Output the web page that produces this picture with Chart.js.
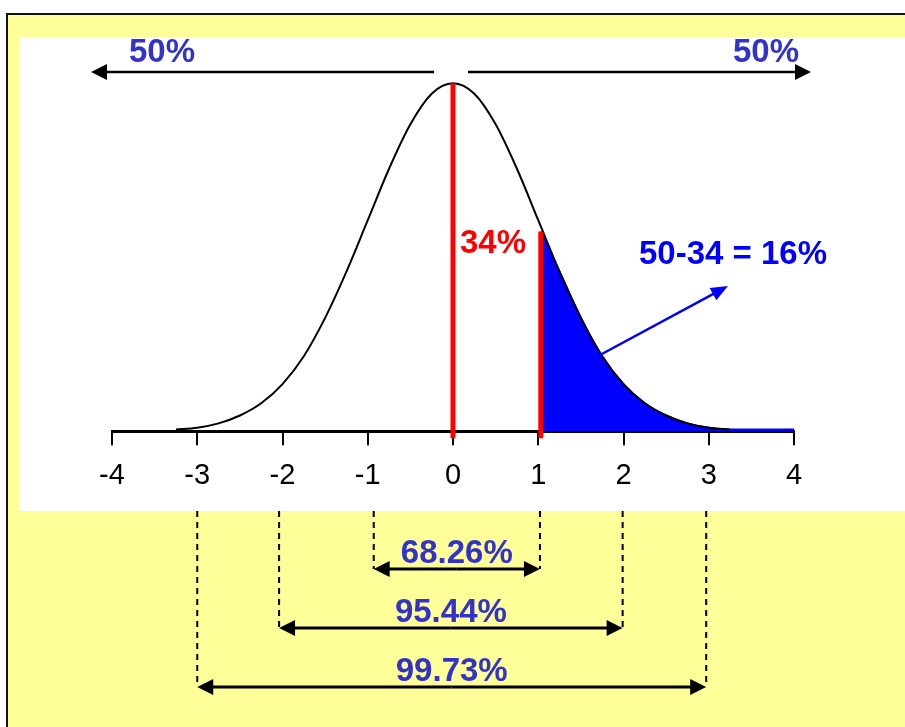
<!DOCTYPE html>
<html>
<head>
<meta charset="utf-8">
<title>Normal distribution</title>
<script src="https://cdn.jsdelivr.net/npm/chart.js@4.4.1/dist/chart.umd.min.js"></script>
<style>
  html, body { margin: 0; padding: 0; background: #fff; }
  #wrap { width: 905px; height: 727px; }
</style>
</head>
<body>
<div id="wrap"><canvas id="normalChart" width="905" height="727"></canvas></div>
<script>
// z values along the bell curve and the height read at each one
const curveX = [-3.25, -3, -2.75, -2.5, -2.25, -2, -1.75, -1.5, -1.25, -1, -0.75, -0.5, -0.25, 0,
                0.25, 0.5, 0.75, 1, 1.25, 1.5, 1.75, 2, 2.25, 2.5, 2.75, 3, 3.25];
const curveY = [0.002, 0.004, 0.009, 0.018, 0.032, 0.054, 0.086, 0.130, 0.183, 0.242, 0.301, 0.352, 0.387, 0.399,
                0.387, 0.352, 0.301, 0.242, 0.183, 0.130, 0.086, 0.054, 0.032, 0.018, 0.009, 0.004, 0.002];

// blue shaded tail, right of the second red line
const tailX = [1.03, 1.25, 1.5, 1.75, 2, 2.25, 2.5, 2.75, 3, 3.25, 4];
const tailY = [0.229, 0.183, 0.130, 0.086, 0.054, 0.032, 0.018, 0.009, 0.004, 0.002, 0.002];

// red vertical markers
const markerX = [0, 1.03];
const markerTop = [0.399, 0.229];
const markerBottom = -0.008;

const tickValues = [-4, -3, -2, -1, 0, 1, 2, 3, 4];

// the three sigma ranges under the axis
const rangeLow = [-0.93, -2.04, -3.0];
const rangeHigh = [1.02, 1.99, 2.97];
const rangeLabels = ['68.26%', '95.44%', '99.73%'];

const halfLabel = '50%';
const markerLabel = '34%';
const tailLabel = '50-34 = 16%';

const FONT = "'Liberation Sans', Arial, sans-serif";

function arrowHead(ctx, x, y, angle, len, half) {
    ctx.save();
    ctx.translate(x, y);
    ctx.rotate(angle);
    ctx.beginPath();
    ctx.moveTo(0, 0);
    ctx.lineTo(-len, -half);
    ctx.lineTo(-len, half);
    ctx.closePath();
    ctx.fill();
    ctx.restore();
}

function arrow(ctx, x1, y1, x2, y2, color, width, len, half) {
    const a = Math.atan2(y2 - y1, x2 - x1);
    ctx.strokeStyle = color;
    ctx.fillStyle = color;
    ctx.lineWidth = width;
    ctx.beginPath();
    ctx.moveTo(x1, y1);
    ctx.lineTo(x2 - Math.cos(a) * (len - 2), y2 - Math.sin(a) * (len - 2));
    ctx.stroke();
    arrowHead(ctx, x2, y2, a, len, half);
}

const decor = {
    id: 'decor',
    beforeDraw(chart) {
        const ctx = chart.ctx;
        ctx.save();
        ctx.fillStyle = '#ffffff';
        ctx.fillRect(0, 0, 905, 727);
        ctx.fillStyle = '#ffff99';
        ctx.fillRect(8, 15, 897, 712);
        ctx.strokeStyle = '#111';
        ctx.lineWidth = 2;
        ctx.beginPath();
        ctx.moveTo(7, 727);
        ctx.lineTo(7, 14);
        ctx.lineTo(905, 14);
        ctx.stroke();
        ctx.fillStyle = '#ffffff';
        ctx.fillRect(19, 37, 886, 474);
        ctx.restore();
    },
    afterDraw(chart) {
        const ctx = chart.ctx;
        const xs = chart.scales.x;
        ctx.save();

        // 50% / 50% arrows over the peak
        arrow(ctx, 434, 72, 91, 72, '#000', 2.5, 16, 8);
        arrow(ctx, 468, 72, 811, 72, '#000', 2.5, 16, 8);

        ctx.font = 'bold 33px ' + FONT;
        ctx.textAlign = 'center';
        ctx.textBaseline = 'middle';
        ctx.fillStyle = '#3333cc';
        ctx.fillText(halfLabel, 162, 53);
        ctx.fillText(halfLabel, 766, 53);

        ctx.fillStyle = '#ff0000';
        ctx.fillText(markerLabel, 493, 244);

        ctx.fillStyle = '#0000ff';
        ctx.fillText(tailLabel, 733, 255);
        arrow(ctx, 600, 355, 728, 286, '#0000ff', 2.5, 17, 7);

        // sigma ranges
        const barY = [569, 628, 687];
        rangeLabels.forEach((label, i) => {
            const lo = xs.getPixelForValue(rangeLow[i]);
            const hi = xs.getPixelForValue(rangeHigh[i]);
            ctx.strokeStyle = '#000';
            ctx.lineWidth = 2;
            ctx.setLineDash([6, 5]);
            ctx.beginPath();
            ctx.moveTo(lo, 511);
            ctx.lineTo(lo, barY[i]);
            ctx.moveTo(hi, 511);
            ctx.lineTo(hi, barY[i]);
            ctx.stroke();
            ctx.setLineDash([]);

            const mid = (lo + hi) / 2;
            arrow(ctx, mid, barY[i], hi, barY[i], '#000', 3, 16, 8);
            arrow(ctx, mid, barY[i], lo, barY[i], '#000', 3, 16, 8);

            ctx.fillStyle = '#3333cc';
            ctx.fillText(label, mid, barY[i] - 15);
        });
        ctx.restore();
    }
};

const datasets = [
    {
        data: tailX.map((x, i) => ({ x: x, y: tailY[i] })),
        borderColor: '#0000ff',
        backgroundColor: '#0000ff',
        borderWidth: 2,
        fill: 'origin',
        pointRadius: 0,
        cubicInterpolationMode: 'monotone',
        order: 3
    },
    {
        data: curveX.map((x, i) => ({ x: x, y: curveY[i] })),
        borderColor: '#000000',
        borderWidth: 2,
        fill: false,
        pointRadius: 0,
        cubicInterpolationMode: 'monotone',
        order: 2
    }
];
markerX.forEach((x, i) => {
    datasets.push({
        data: [{ x: x, y: markerTop[i] }, { x: x, y: markerBottom }],
        borderColor: '#ff0000',
        borderWidth: 5,
        borderCapStyle: 'butt',
        pointRadius: 0,
        fill: false,
        clip: false,
        order: 1
    });
});

new Chart(document.getElementById('normalChart'), {
    type: 'line',
    data: { datasets: datasets },
    options: {
        responsive: false,
        animation: false,
        events: [],
        layout: { padding: { left: 112, right: 111, top: 65, bottom: 221 } },
        plugins: { legend: { display: false }, tooltip: { enabled: false } },
        scales: {
            x: {
                type: 'linear',
                min: -4,
                max: 4,
                afterBuildTicks: scale => { scale.ticks = tickValues.map(v => ({ value: v })); },
                ticks: {
                    font: { family: FONT, size: 29 },
                    color: '#000',
                    padding: 13,
                    maxRotation: 0,
                    autoSkip: false,
                    callback: v => String(v)
                },
                grid: { drawOnChartArea: false, tickLength: 14, lineWidth: 2, color: '#000' },
                border: { display: true, width: 3, color: '#000' }
            },
            y: { display: false, min: 0, max: 0.42 }
        }
    },
    plugins: [decor]
});
</script>
</body>
</html>
